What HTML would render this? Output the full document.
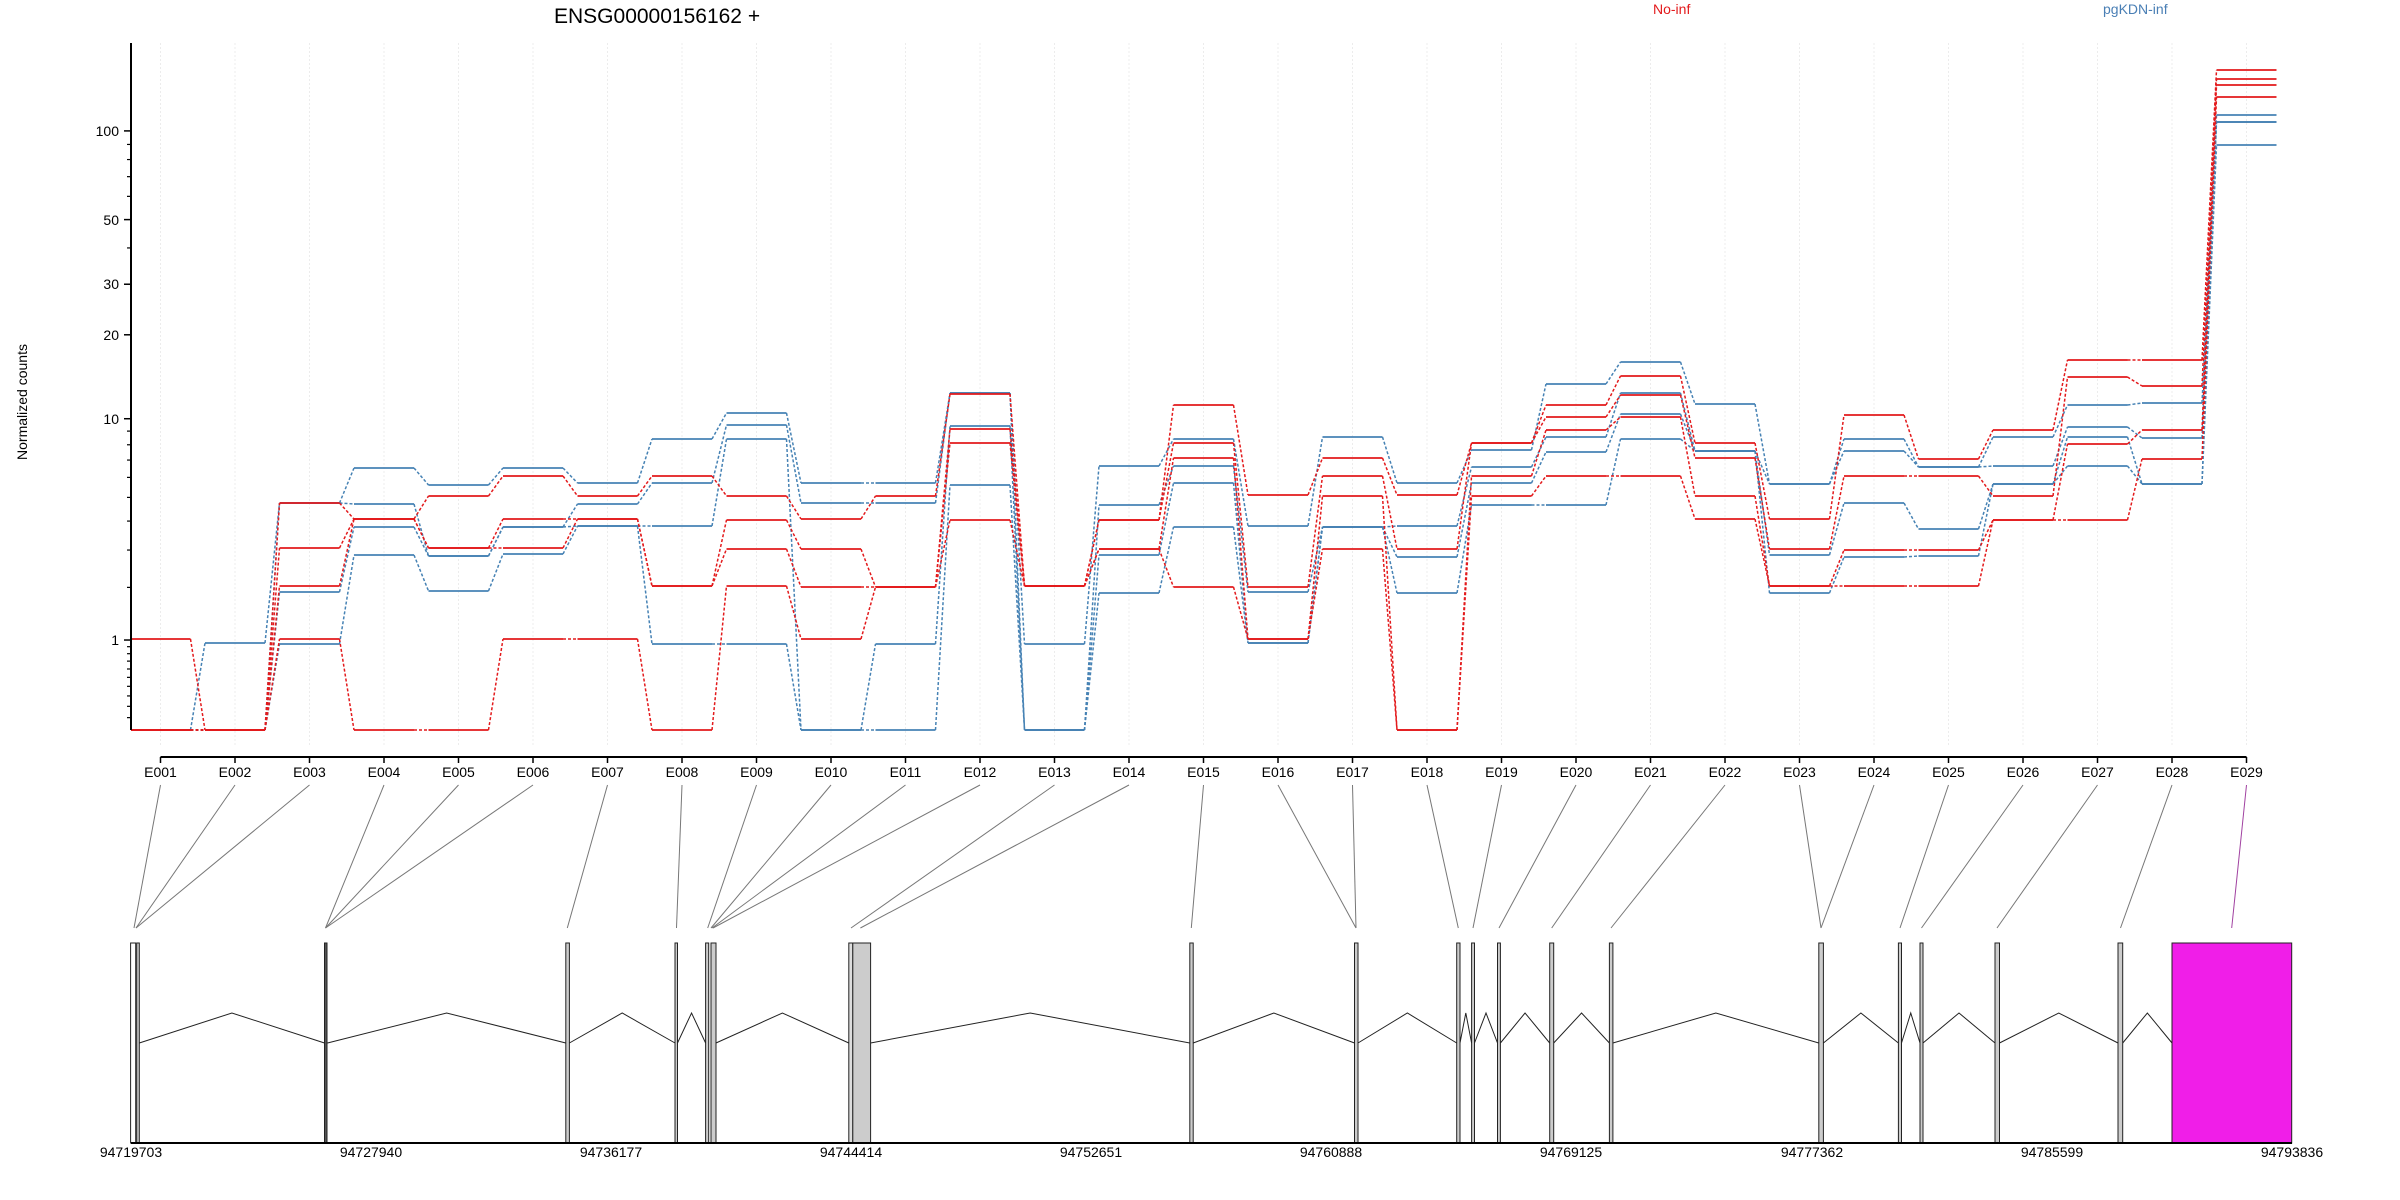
<!DOCTYPE html>
<html><head><meta charset="utf-8"><style>
html,body{margin:0;padding:0;background:#fff;}
svg{display:block;font-family:"Liberation Sans",Arial,sans-serif;}
</style></head><body>
<svg id="s" width="2400" height="1200" viewBox="0 0 2400 1200" xmlns="http://www.w3.org/2000/svg">
<rect width="2400" height="1200" fill="#fff"/>
<g id="grid"></g>
<g id="series"></g>
<g id="axes" stroke="#000"></g>
<g id="gene"></g>
<text x="554" y="23" font-size="21">ENSG00000156162 +</text>
<text x="1653" y="14" font-size="14" fill="#e31a1c">No-inf</text>
<text x="2103" y="14" font-size="14" fill="#4a7fb5">pgKDN-inf</text>
<text transform="translate(27,402) rotate(-90)" font-size="14" text-anchor="middle">Normalized counts</text>
<g font-size="14" text-anchor="end">
<text x="119" y="136">100</text>
<text x="119" y="225">50</text>
<text x="119" y="289">30</text>
<text x="119" y="340">20</text>
<text x="119" y="424">10</text>
<text x="119" y="645">1</text>
</g>
<g font-size="14" text-anchor="middle">
<text x="160.5" y="777">E001</text><text x="235" y="777">E002</text><text x="309.5" y="777">E003</text><text x="384" y="777">E004</text><text x="458.5" y="777">E005</text><text x="533" y="777">E006</text><text x="607.5" y="777">E007</text><text x="682" y="777">E008</text><text x="756.5" y="777">E009</text><text x="831" y="777">E010</text><text x="905.5" y="777">E011</text><text x="980" y="777">E012</text><text x="1054.5" y="777">E013</text><text x="1129" y="777">E014</text><text x="1203.5" y="777">E015</text><text x="1278" y="777">E016</text><text x="1352.5" y="777">E017</text><text x="1427" y="777">E018</text><text x="1501.5" y="777">E019</text><text x="1576" y="777">E020</text><text x="1650.5" y="777">E021</text><text x="1725" y="777">E022</text><text x="1799.5" y="777">E023</text><text x="1874" y="777">E024</text><text x="1948.5" y="777">E025</text><text x="2023" y="777">E026</text><text x="2097.5" y="777">E027</text><text x="2172" y="777">E028</text><text x="2246.5" y="777">E029</text>
</g>
<g font-size="14" text-anchor="middle">
<text x="131" y="1157">94719703</text><text x="371" y="1157">94727940</text><text x="611" y="1157">94736177</text><text x="851" y="1157">94744414</text><text x="1091" y="1157">94752651</text><text x="1331" y="1157">94760888</text><text x="1571" y="1157">94769125</text><text x="1812" y="1157">94777362</text><text x="2052" y="1157">94785599</text><text x="2292" y="1157">94793836</text>
</g>
</svg>
<script>
var NS="http://www.w3.org/2000/svg";
function el(p,t,a){var e=document.createElementNS(NS,t);for(var k in a)e.setAttribute(k,a[k]);p.appendChild(e);return e;}
var grid=document.getElementById('grid'),ser=document.getElementById('series'),ax=document.getElementById('axes'),gene=document.getElementById('gene');
function cx(i){return 160.5+74.5*i;}
function yv(v){return 730-298.9*Math.log10(v+1);}
for(var i=0;i<29;i++){el(grid,'line',{x1:cx(i),x2:cx(i),y1:43,y2:745,stroke:'#ececec','stroke-width':1,'stroke-dasharray':'2,2'});}
var R=[[639,730,730,730],[730,730,730,730],[503,548,586,639],[519,519,519,730],[496,548,548,730],[476,519,548,639],[496,519,519,639],[476,586,586,730],[496,520,549,586],[519,549,587,639],[496,587,587,587],[394,429,443,520],[586,586,586,586],[520,520,549,549],[405,443,458,587],[495,587,639,639],[458,476,496,549],[495,549,730,730],[443,443,476,496],[405,417,430,476],[376,395,417,476],[443,458,496,519],[519,549,586,586],[415,476,550,586],[459,476,550,586],[430,496,520,520],[360,377,444,520],[360,386,430,459],[70,79,85,97]];
var B=[[730,730,730,730],[643,730,730,730],[503,503,592,644],[468,504,527,555],[485,556,556,591],[468,527,527,554],[483,504,526,526],[439,483,526,644],[413,425,439,644],[483,503,730,730],[483,503,644,730],[393,393,426,485],[644,730,730,730],[466,505,555,593],[439,466,483,527],[526,592,643,643],[437,527,527,527],[483,526,557,593],[450,467,483,505],[384,437,452,505],[362,393,414,439],[404,451,451,451],[484,484,555,593],[439,451,503,557],[467,467,529,556],[437,466,484,484],[405,427,437,466],[403,438,484,484],[115,122,122,145]];
function draw(D,col){for(var k=0;k<4;k++){for(var i=0;i<29;i++){var y=D[i][k];var x0=(i==0?131:cx(i)-30),x1=cx(i)+30;
el(ser,'line',{x1:x0,x2:x1,y1:y,y2:y,stroke:col,'stroke-width':1.8});
if(i<28){el(ser,'line',{x1:cx(i)+30,y1:y,x2:cx(i+1)-30,y2:D[i+1][k],stroke:col,'stroke-width':1.5,'stroke-dasharray':'3,2'});}}}}
draw(B,'#4682b4');draw(R,'#e31a1c');
el(ax,'line',{x1:131,x2:131,y1:43,y2:730,'stroke-width':2});
[100,50,30,20,10,1].forEach(function(v){var y=yv(v);el(ax,'line',{x1:124,x2:131,y1:y,y2:y,'stroke-width':1.5});});
[90,80,70,60,40,9,8,7,6,5,4,3,2,.9,.8,.7,.6,.5,.4,.3,.2,.1].forEach(function(v){var y=yv(v);el(ax,'line',{x1:127,x2:131,y1:y,y2:y,'stroke-width':1.2});});
el(ax,'line',{x1:160.5,x2:2246.5,y1:757,y2:757,'stroke-width':2});
for(var i=0;i<29;i++)el(ax,'line',{x1:cx(i),x2:cx(i),y1:757,y2:763,'stroke-width':1.5});
var ends=[134,136,136,325.5,325.5,325.5,567.3,676.5,707.7,711,712,713,851,860.4,1191.3,1356,1356,1458.3,1473,1499,1551.7,1611,1821,1821,1900,1921.5,1997,2120.5,2231.7];
for(var i=0;i<29;i++)el(gene,'line',{x1:cx(i),y1:785,x2:ends[i],y2:928,stroke:i==28?'#a040a0':'#777','stroke-width':1});
var blocks=[[130.6,139.3],[324.5,327.5],[565.8,569.4],[675,677.5],[705.6,716],[848.8,870.6],[1189.8,1193.2],[1354.5,1358],[1456.7,1460],[1471.6,1474.5],[1497.5,1500.4],[1549.7,1553.7],[1609.4,1612.9],[1818.8,1823.4],[1898.4,1901.5],[1920,1923],[1995,1999.5],[2118,2122.7],[2172,2291.7]];
for(var i=0;i<blocks.length-1;i++){var a=blocks[i][1],b=blocks[i+1][0];el(gene,'polyline',{points:a+',1043 '+((a+b)/2)+',1013 '+b+',1043',fill:'none',stroke:'#222','stroke-width':1});}
var ex=[[130.6,135.7,'#fff'],[136.7,139.3,'#ccc'],[324.5,327,'#555'],[565.8,569.4,'#ccc'],[675,677.5,'#ccc'],[705.6,708.7,'#ccc'],[711,716,'#ccc'],[848.8,852.8,'#ddd'],[852.8,870.6,'#ccc'],[1189.8,1193.2,'#ccc'],[1354.5,1358,'#ccc'],[1456.7,1460,'#ccc'],[1471.6,1474.5,'#ccc'],[1497.5,1500.4,'#ccc'],[1549.7,1553.7,'#ccc'],[1609.4,1612.9,'#ccc'],[1818.8,1823.4,'#ccc'],[1898.4,1901.5,'#ccc'],[1920,1923,'#ccc'],[1995,1999.5,'#ccc'],[2118,2122.7,'#ccc'],[2172,2291.7,'#f01ee8']];
ex.forEach(function(e){el(gene,'rect',{x:e[0],y:943,width:e[1]-e[0],height:200,fill:e[2],stroke:'#222','stroke-width':1});});
el(gene,'line',{x1:131,x2:2292,y1:1143,y2:1143,stroke:'#000','stroke-width':2});
</script>
</body></html>
